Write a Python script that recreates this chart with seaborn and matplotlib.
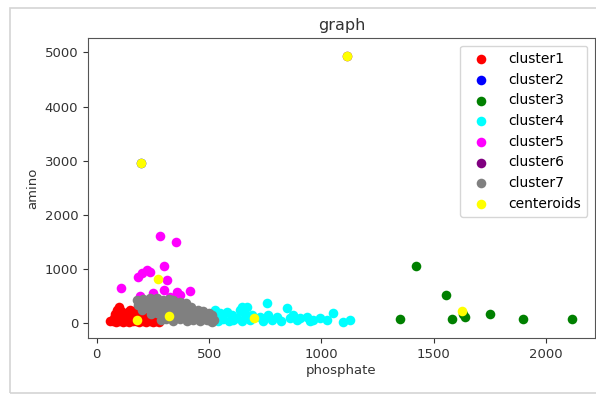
import matplotlib
matplotlib.use("Agg")
import matplotlib.pyplot as plt
import seaborn as sns
import pandas as pd
from matplotlib.patches import Rectangle

# ---- data ----
cluster1_x = [58, 70, 85, 100, 115, 130, 145, 160, 175, 190, 205, 220, 235, 250, 265, 275,
              75, 90, 105, 120, 135, 150, 165, 180, 195, 210, 225,
              80, 95, 110, 125, 140, 155, 170, 185, 200,
              90, 100, 110, 150, 165]
cluster1_y = [30, 40, 20, 35, 25, 40, 20, 30, 45, 25, 35, 20, 40, 25, 30, 20,
              90, 110, 80, 120, 95, 110, 130, 100, 90, 120, 80,
              160, 190, 170, 150, 200, 180, 160, 190, 150,
              250, 300, 230, 240, 220]

cluster2_x = [196]
cluster2_y = [2963]

cluster3_x = [1350, 1420, 1555, 1580, 1629, 1640, 1750, 1897, 2114]
cluster3_y = [68, 1054, 518, 74, 160, 120, 160, 74, 74]

cluster4_x = [526, 530, 540, 549, 560, 578, 590, 600, 608, 625, 638, 645, 646, 660, 667, 680,
              690, 727, 740, 756, 764, 780, 801, 820, 845, 860, 875, 890, 905, 935, 950,
              964, 994, 1023, 1053, 1097, 1127]
cluster4_y = [240, 120, 40, 180, 80, 209, 30, 140, 60, 100, 240, 30, 290, 170, 302, 60,
              148, 117, 40, 364, 148, 60, 117, 40, 271, 100, 148, 60, 86, 117, 30,
              55, 86, 55, 179, 25, 55]

cluster5_x = [282, 352, 297, 223, 200, 237, 185, 312, 107, 297, 356, 415, 193, 252, 371, 326]
cluster5_y = [1614, 1503, 1059, 980, 918, 949, 856, 795, 641, 610, 579, 591, 499, 549, 518, 480]

cluster6_x = [1113]
cluster6_y = [4930]

cluster7_x = [178, 205, 235, 267, 295, 320, 341, 370, 395, 420, 452, 475, 500, 515,
              185, 215, 245, 275, 305, 335, 365, 395, 425, 455, 485, 510,
              200, 230, 260, 290, 320, 350, 380, 410, 440, 470, 500, 520,
              240, 270, 300, 330, 360, 390, 420, 450, 480, 510,
              285, 310, 340, 370, 400, 430, 460, 490, 515]
cluster7_y = [425, 440, 455, 456, 430, 440, 420, 380, 365, 300, 250, 220, 180, 150,
              330, 350, 370, 340, 360, 330, 320, 290, 240, 200, 160, 120,
              250, 270, 240, 260, 230, 250, 220, 190, 170, 140, 100, 60,
              160, 180, 150, 170, 140, 160, 120, 100, 80, 40,
              60, 80, 40, 70, 30, 60, 30, 50, 20]

centroid_x = [181, 196, 1626, 700, 273, 1113, 323]
centroid_y = [50, 2963, 228, 98, 820, 4930, 129]

series = [
    ("cluster1", cluster1_x, cluster1_y, "red"),
    ("cluster2", cluster2_x, cluster2_y, "blue"),
    ("cluster3", cluster3_x, cluster3_y, "green"),
    ("cluster4", cluster4_x, cluster4_y, "cyan"),
    ("cluster5", cluster5_x, cluster5_y, "magenta"),
    ("cluster6", cluster6_x, cluster6_y, "purple"),
    ("cluster7", cluster7_x, cluster7_y, "grey"),
    ("centeroids", centroid_x, centroid_y, "yellow"),
]

plt.rcParams["font.family"] = ["DejaVu Sans"]
fig = plt.figure(figsize=(5.96, 3.94), dpi=100)
ax = fig.add_axes([0.1477, 0.142, 0.9983 - 0.1477, 0.9036 - 0.142])

for name, xs, ys, col in series:
    df = pd.DataFrame({"phosphate": xs, "amino": ys})
    sns.scatterplot(data=df, x="phosphate", y="amino", color=col, s=48,
                    linewidth=0, label=name, ax=ax)

ax.set_xlim(-39, 2218)
ax.set_ylim(-277, 5268)
ax.set_xticks([0, 500, 1000, 1500, 2000])
ax.set_yticks([0, 1000, 2000, 3000, 4000, 5000])
ax.tick_params(labelsize=9.5, colors="#333333", labelcolor="#333333")
for sp in ax.spines.values():
    sp.set_color("#555555")
ax.set_xlabel("phosphate", fontsize=9.5, color="#333333", labelpad=2)
ax.set_ylabel("amino", fontsize=9.5, color="#333333", labelpad=4)
ax.set_title("graph", fontsize=11.5, color="#333333", pad=6)
ax.legend(loc="upper right", fontsize=10, labelspacing=0.48, borderpad=0.45,
          handletextpad=1.0, borderaxespad=0.55)

# light screenshot border
fig.patches.append(Rectangle((10, 1), 700, 385, transform=None, fill=False,
                             edgecolor="#d4d4d4", linewidth=1.2))

fig.savefig("out.png", dpi=100)
